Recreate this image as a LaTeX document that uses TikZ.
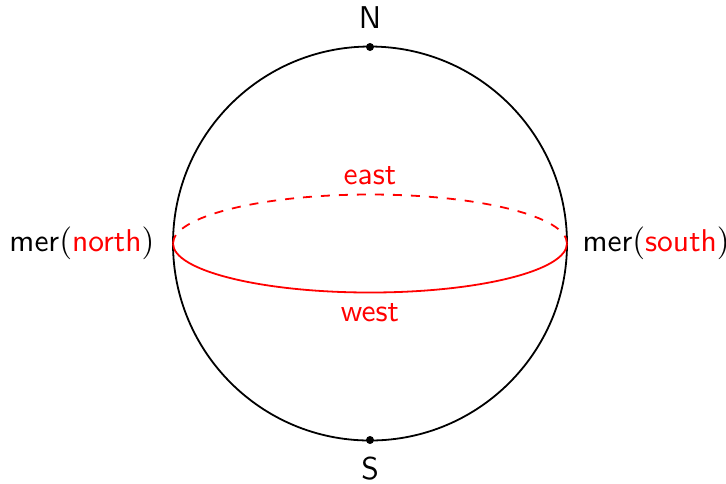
\documentclass[tikz,border=0pt]{standalone}
\usepackage{xcolor}
\begin{document}
\begin{tikzpicture}[x=0.33333pt,y=-0.33333pt,
  lbl/.style={font=\sffamily\fontsize{10.5}{12}\selectfont, inner sep=0pt},
  redlbl/.style={font=\sffamily\fontsize{10.5}{12}\selectfont, text=red, inner sep=0pt},
  sph/.style={line width=0.6pt},
  eq/.style={line width=0.6pt, red}]
\useasboundingbox (0,0) rectangle (726,483);
\coordinate (O) at (370,243.5);
\coordinate (Np) at (370,47);
\coordinate (Sp) at (370,440);
\coordinate (W) at (173,243.5);
\coordinate (E) at (567,243.5);
\draw[sph] (O) circle[radius=197];
\draw[eq] (W) arc[start angle=180, end angle=0, x radius=197, y radius=49];
\draw[eq, dashed] (W) arc[start angle=180, end angle=360, x radius=197, y radius=49];
\fill (Np) circle[radius=4];
\fill (Sp) circle[radius=4];
\node[lbl] (nlab) at (370,18) {N};
\node[lbl] (slab) at (370,469) {S};
\node[redlbl] (east) at (370,176) {east};
\node[redlbl] (west) at (370,313) {west};
\node[lbl, anchor=east] (ml) at (155,243) {mer$($\textcolor{red}{north}$)$};
\node[lbl, anchor=west] (mr) at (582,243) {mer$($\textcolor{red}{south}$)$};
\end{tikzpicture}
\end{document}
